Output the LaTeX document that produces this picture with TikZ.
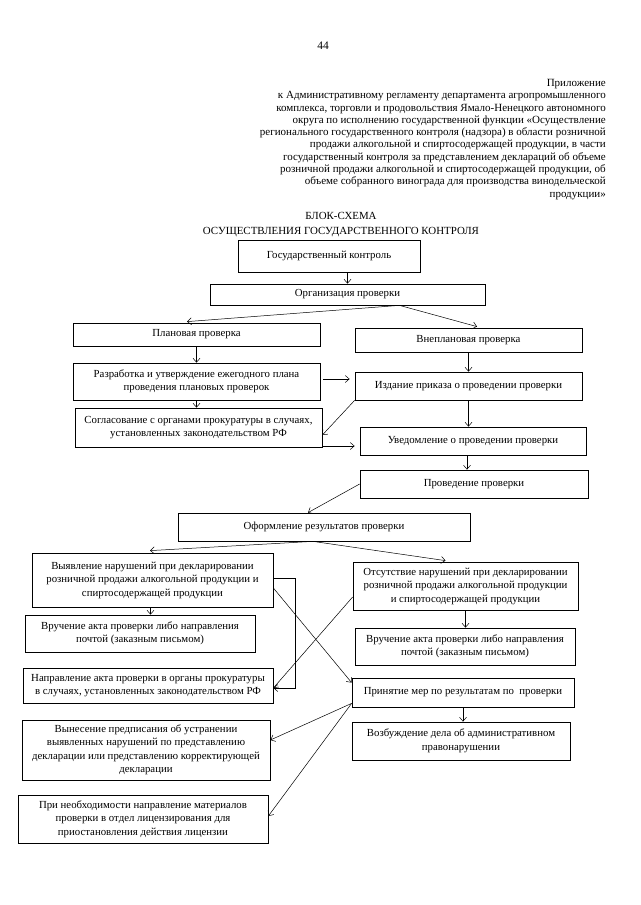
\documentclass[tikz,border=0pt]{standalone}
\usepackage{fontspec}
\setmainfont{Liberation Serif}
\usetikzlibrary{arrows.meta,calc}
\begin{document}
\begin{tikzpicture}[x=1pt,y=-1pt,
  box/.style={draw, line width=0.75pt, inner sep=1pt, align=center,
    font=\fontsize{10.8}{13.5}\selectfont},
  arr/.style={-{Straight Barb[length=4pt,width=7pt]}, line width=0.5pt},
  hdr/.style={inner sep=0pt, align=right, font=\fontsize{11}{12.3}\selectfont},
  ttl/.style={inner sep=0pt, align=center, font=\fontsize{10.9}{15}\selectfont}]
\useasboundingbox[fill=white] (0,0) rectangle (640,905);

\node[inner sep=0pt, font=\fontsize{11.5}{13}\selectfont] (pnum) at (323,45.5) {44};
\node[hdr, anchor=north east] (hdr) at (606,79) {Приложение\\
к Административному регламенту департамента агропромышленного\\
комплекса, торговли и продовольствия Ямало-Ненецкого автономного\\
округа по исполнению государственной функции «Осуществление\\
регионального государственного контроля (надзора) в области розничной\\
продажи алкогольной и спиртосодержащей продукции, в части\\
государственный контроля за представлением деклараций об объеме\\
розничной продажи алкогольной и спиртосодержащей продукции, об\\
объеме собранного винограда для производства винодельческой\\
продукции»};
\node[ttl] (ttl) at (341,225) {БЛОК-СХЕМА\\ОСУЩЕСТВЛЕНИЯ ГОСУДАРСТВЕННОГО КОНТРОЛЯ};

% boxes
\node[box, minimum width=182, minimum height=32] (gk) at (329,256) {Государственный контроль};
\node[box, minimum width=275, minimum height=21] (org) at (347.5,294.5) {Организация проверки};
\node[box, minimum width=247, minimum height=23] (plan) at (196.5,334.5) {Плановая проверка};
\node[box, minimum width=227, minimum height=24] (vnepl) at (468.5,340) {Внеплановая проверка};
\node[box, minimum width=247, minimum height=37] (razr) at (196.5,381.5) {Разработка и утверждение ежегодного плана\\проведения плановых проверок};
\node[box, minimum width=227, minimum height=28] (izd) at (468.5,386) {Издание приказа о проведении проверки};
\node[box, minimum width=247, minimum height=39] (sogl) at (198.5,427.5) {Согласование с органами прокуратуры в случаях,\\установленных законодательством РФ};
\node[box, minimum width=226, minimum height=28] (uved) at (473,441) {Уведомление о проведении проверки};
\node[box, minimum width=228, minimum height=28] (provd) at (474,484) {Проведение проверки};
\node[box, minimum width=292, minimum height=28] (oform) at (324,527) {Оформление результатов проверки};
\node[box, minimum width=241, minimum height=54] (vyyav) at (152.5,580) {Выявление нарушений при декларировании\\розничной продажи алкогольной продукции и\\спиртосодержащей продукции};
\node[box, minimum width=225, minimum height=48] (otsut) at (465.5,586) {Отсутствие нарушений при декларировании\\розничной продажи алкогольной продукции\\и спиртосодержащей продукции};
\node[box, minimum width=230, minimum height=37] (vruchA) at (140,633.5) {Вручение акта проверки либо направления\\почтой (заказным письмом)};
\node[box, minimum width=220, minimum height=37] (vruchB) at (465,646.5) {Вручение акта проверки либо направления\\почтой (заказным письмом)};
\node[box, minimum width=250, minimum height=35] (napr) at (148,685.5) {Направление акта проверки в органы прокуратуры\\в случаях, установленных законодательством РФ};
\node[box, minimum width=222, minimum height=29] (prin) at (463,692.5) {Принятие мер по результатам по\ \ проверки};
\node[box, minimum width=218, minimum height=38] (vozb) at (461,741) {Возбуждение дела об административном\\правонарушении};
\node[box, minimum width=248, minimum height=60] (vyn) at (146,750) {Вынесение предписания об устранении\\выявленных нарушений по представлению\\декларации или представлению корректирующей\\декларации};
\node[box, minimum width=250, minimum height=48] (pri) at (143,819) {При необходимости направление материалов\\проверки в отдел лицензирования для\\приостановления действия лицензии};

% helper coordinates
\coordinate (orgap) at ($(org.south)+(52,0)$);
\coordinate (oformap) at ($(oform.south)+(-11,0)$);
\coordinate (razrE) at ($(razr.east)+(3,-2.5)$);
\coordinate (izdW) at ($(izd.west)+(-5,-7)$);
\coordinate (soglE) at ($(sogl.east)+(1,18.5)$);
\coordinate (uvedW) at ($(uved.west)+(-5,5)$);
\coordinate (uvedS) at ($(uved.south)+(-6,0)$);
\coordinate (provdN) at ($(provd.north)+(-7,0)$);
\coordinate (vyyavS) at ($(vyyav.south)+(-2,0)$);
\coordinate (vruchAN) at ($(vruchA.north)+(10.5,0)$);
\coordinate (vyyavE) at ($(vyyav.east)+(0,-2)$);
\coordinate (naprE) at ($(napr.east)+(0,2.5)$);
\coordinate (prinsw) at ($(prin.south west)+(0,-4)$);

% connectors
\draw[arr] (org.north |- gk.south) -- (org.north);
\draw[arr] (orgap) -- ($(plan.north)+(-9.5,-1)$);
\draw[arr] (orgap) -- ($(vnepl.north)+(8.5,-1)$);
\draw[arr] (plan.south) -- (razr.north);
\draw[arr] (vnepl.south) -- (izd.north);
\draw[arr] (razrE) -- (izdW);
\draw[arr] (razr.south) -- (razr.south |- sogl.north);
\draw[arr] (izd.south west) -- ($(sogl.east)+(0,7.5)$);
\draw[arr] (soglE) -- (uvedW);
\draw[arr] (izd.south) -- (izd.south |- uved.north);
\draw[arr] (uvedS) -- (provdN);
\draw[arr] (provd.west) -- ($(oform.north)+(-16,0)$);
\draw[arr] (oformap) -- ($(vyyav.north)+(-2.5,-2)$);
\draw[arr] (oformap) -- ($(otsut.north)+(-20,-1)$);
\draw[arr] (vyyavS) -- (vruchAN);
\draw[arr] (otsut.south) -- (otsut.south |- vruchB.north);
\draw[arr] (vyyavE) -- ++(22,0) |- (naprE);
\draw[arr] ($(vyyav.east)+(0,8)$) -- ($(prin.north west)+(0,5)$);
\draw[arr] ($(otsut.west)+(0,11)$) -- (naprE);
\draw[arr] (prinsw) -- ($(vyn.east)+(0,-10)$);
\draw[arr] (prinsw) -- ($(pri.east)+(0,-3)$);
\draw[arr] (prin.south) -- (prin.south |- vozb.north);
\end{tikzpicture}
\end{document}
